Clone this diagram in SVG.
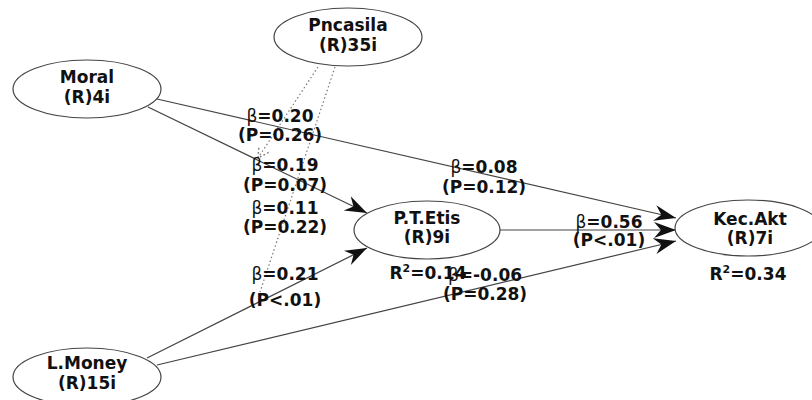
<svg xmlns="http://www.w3.org/2000/svg" width="812" height="400" viewBox="0 0 812 400">
<style>
.node ellipse{fill:#fff;stroke:#444;stroke-width:1.2}
text{font-family:"DejaVu Sans","Liberation Sans",sans-serif;font-weight:bold;font-size:17px;fill:#111;text-anchor:middle}
.b{font-weight:normal}
.e{stroke:#444;stroke-width:1.2;fill:none}
.d{stroke:#777;stroke-width:1.2;stroke-dasharray:1.5 2.5;fill:none}
</style>
<defs>
<marker id="ah" markerUnits="userSpaceOnUse" markerWidth="24" markerHeight="18" viewBox="-22 -9 24 18" refX="0" refY="0" orient="auto">
<path d="M0,0 L-22,-8 L-15,0 L-22,8 Z" fill="#111"/>
</marker>
<marker id="dh" markerUnits="userSpaceOnUse" markerWidth="14" markerHeight="14" viewBox="-10 -6 12 12" refX="0" refY="0" orient="auto">
<path d="M-9,-5 L0,0 L-9,5" fill="none" stroke="#777" stroke-width="1.2" stroke-dasharray="1.5 2"/>
</marker>
</defs>
<rect width="812" height="400" fill="#fff"/>
<g id="connectors">
<path class="e" d="M157,99 L676,218" marker-end="url(#ah)"/>
<path class="e" d="M148,107 L367,213" marker-end="url(#ah)"/>
<path class="e" d="M500,230 L676,230" marker-end="url(#ah)"/>
<path class="e" d="M147,358 L367,248" marker-end="url(#ah)"/>
<path class="e" d="M157,365 L676,241" marker-end="url(#ah)"/>
<path class="d" d="M318,67 L258,158" marker-end="url(#dh)"/>
<path class="d" d="M335,67 L260,292"/>
</g>
<g id="labels">
<text x="280" y="122"><tspan class="b">β</tspan>=0.20</text>
<text x="280" y="141">(P=0.26)</text>
<text x="285" y="171"><tspan class="b">β</tspan>=0.19</text>
<text x="285" y="191">(P=0.07)</text>
<text x="285" y="214"><tspan class="b">β</tspan>=0.11</text>
<text x="285" y="233">(P=0.22)</text>
<text x="285" y="280"><tspan class="b">β</tspan>=0.21</text>
<text x="285" y="306">(P&lt;.01)</text>
<text x="484" y="173"><tspan class="b">β</tspan>=0.08</text>
<text x="484" y="193">(P=0.12)</text>
<text x="609" y="228"><tspan class="b">β</tspan>=0.56</text>
<text x="609" y="246">(P&lt;.01)</text>
<text x="428" y="279">R<tspan font-size="11" dy="-7">2</tspan><tspan dy="7">=0.14</tspan></text>
<text x="485" y="281"><tspan class="b">β</tspan>=-0.06</text>
<text x="485" y="300">(P=0.28)</text>
<text x="748" y="280">R<tspan font-size="11" dy="-7">2</tspan><tspan dy="7">=0.34</tspan></text>
</g>
<g id="Pncasila" class="node">
<ellipse cx="348" cy="37" rx="74" ry="29"/>
<text x="348" y="31">Pncasila</text>
<text x="348" y="51">(R)35i</text>
</g>
<g id="Moral" class="node">
<ellipse cx="87" cy="89" rx="74" ry="29"/>
<text x="87" y="83">Moral</text>
<text x="87" y="103">(R)4i</text>
</g>
<g id="PTEtis" class="node">
<ellipse cx="427" cy="230" rx="73" ry="29"/>
<text x="427" y="224">P.T.Etis</text>
<text x="427" y="243">(R)9i</text>
</g>
<g id="KecAkt" class="node">
<ellipse cx="748" cy="228" rx="73" ry="28"/>
<text x="750" y="225">Kec.Akt</text>
<text x="750" y="244">(R)7i</text>
</g>
<g id="LMoney" class="node">
<ellipse cx="87" cy="377" rx="74" ry="29"/>
<text x="87" y="369">L.Money</text>
<text x="87" y="389">(R)15i</text>
</g>
</svg>
